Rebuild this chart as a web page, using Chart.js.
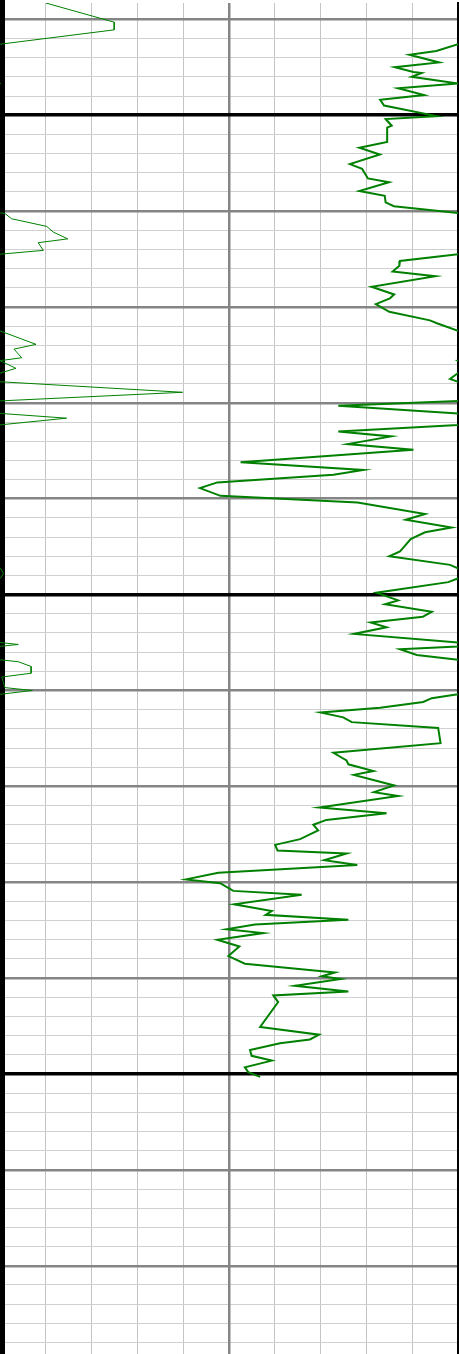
<!DOCTYPE html>
<html>
<head>
<meta charset="utf-8">
<script src="https://cdn.jsdelivr.net/npm/chart.js@4.4.1/dist/chart.umd.min.js"></script>
<style>
    html, body { margin: 0; padding: 0; background: #fff; overflow: hidden; }
    #log-track { position: relative; width: 459px; height: 1354px; }
</style>
</head>
<body>
<div id="log-track"><canvas id="gr-log-chart"></canvas></div>
<script>
// depth of each picked vertex (top to bottom) and the gamma ray reading there
const depths = [
    88.3, 90.3, 91.1, 92.6, 93.3, 93.7, 94.5, 95.0, 95.5, 95.6,
    96.0, 96.7, 97.2, 97.9, 98.4, 99.0, 100.1, 100.4, 101.1, 101.3,
    102.8, 103.4, 104.1, 105.1, 105.6, 106.6, 107.0, 107.9, 108.4, 109.1, 109.5,
    110.25, 110.8, 111.6, 112.2, 112.9, 113.3, 114.1, 114.5, 115.2, 115.7,
    116.3, 116.8, 117.9, 118.7, 119.1, 119.7, 120.5, 121.4, 121.7, 122.5,
    123.9, 124.4, 125.3, 125.6, 126.4, 126.9, 127.5, 127.8, 128.9, 129.8,
    130.3, 131.1, 131.6, 132.3, 133.0, 133.5, 134.3, 134.9, 136.2, 137.0,
    137.5, 138.3, 138.9, 139.7, 140.4, 141.6, 142.2, 143.0, 143.5, 144.2,
    145.1, 145.5, 146.0, 146.9, 147.3, 147.8, 148.3, 148.7, 149.8, 150.6,
    151.0, 151.8, 152.3, 152.9, 153.4, 154.1, 155.0, 155.2, 155.4, 155.7,
    156.3, 156.8, 157.0, 157.5, 158.2, 158.6, 159.7, 160.0, 160.4, 160.8,
    161.2, 161.8, 162.3, 162.8, 163.3, 163.9, 165.5, 166.5, 167.3, 167.7,
    168.4, 168.8, 169.9, 170.6, 171.0, 172.2, 172.8, 173.5, 174.0, 174.6,
    175.5, 176.1, 176.7, 177.0, 177.7, 178.2, 179.0, 179.7, 180.1, 180.9,
    181.3, 182.3, 183.0, 183.4, 183.9, 184.4, 184.9, 185.3, 186.0, 186.7,
    187.7, 188.5, 189.4, 189.8, 190.1, 190.8, 191.4, 191.8, 192.5, 195.1,
    195.9, 196.4, 196.8, 197.5, 198.1, 198.6, 199.3, 199.8, 200.3,
];

const gammaRay = [
    165.0, 187.4, 187.4, 150.0, 142.9, 134.1, 143.8, 129.3, 135.4, 138.1,
    134.8, 150.3, 130.4, 138.9, 124.5, 125.8, 143.0, 126.3, 128.3, 126.8,
    126.8, 117.7, 124.4, 114.6, 118.6, 120.5, 127.4, 117.7, 126.0, 126.3, 129.0,
    151.6, 153.8, 165.3, 167.5, 172.2, 162.5, 164.2, 150.0, 131.0, 130.8,
    128.6, 142.6, 121.7, 129.1, 127.7, 123.1, 127.5, 140.8, 143.1, 150.0,
    161.8, 154.6, 157.1, 150.0, 155.2, 150.0, 147.4, 150.0, 209.8, 150.0,
    110.8, 150.0, 171.8, 150.0, 110.8, 128.1, 113.9, 135.4, 78.8, 119.0,
    109.2, 71.2, 65.5, 72.2, 117.1, 139.2, 132.9, 147.9, 139.2, 134.5,
    132.1, 131.0, 127.5, 147.4, 150.3, 151.1, 150.1, 146.8, 123.3, 130.4,
    126.1, 141.4, 138.5, 121.4, 126.6, 115.9, 150.0, 156.0, 150.0, 131.0,
    136.5, 150.0, 156.0, 160.2, 160.2, 150.6, 151.6, 160.6, 150.0, 141.4,
    138.6, 124.5, 105.0, 112.4, 115.2, 143.5, 144.3, 109.2, 113.5, 114.1,
    122.3, 115.9, 129.1, 122.5, 130.4, 104.6, 126.6, 106.9, 102.6, 104.2,
    98.3, 90.1, 90.9, 113.5, 106.2, 117.0, 71.5, 60.9, 72.1, 76.4,
    98.8, 76.7, 89.0, 87.0, 114.1, 83.5, 74.2, 86.2, 71.2, 78.4,
    74.8, 80.2, 109.7, 105.4, 111.6, 96.6, 114.1, 89.5, 91.1, 85.2,
    104.5, 101.5, 91.7, 81.9, 82.4, 89.0, 80.2, 81.3, 85.2,
];

// track limits
const depthTop = 88.3;
const depthBase = 229.2;
const grMin = 0;
const grMax = 150;
const grBackupMax = 300;

// grid ticks
const grMinorTicks = [15, 30, 45, 60, 90, 105, 120, 135];
const grMajorTicks = [75];
const depthMinorTicks = [];
const depthMajorTicks = [];

for (let d = 90; d < depthBase; d += 2) {
    if (d % 10 === 0) {
        depthMajorTicks.push(d);
    } else {
        depthMinorTicks.push(d);
    }
}

function useTicks(values) {
    return (scale) => {
        scale.ticks = values.map((value) => ({ value }));
    };
}

function isFiftyLine(context) {
    return context.tick && context.tick.value % 50 === 0;
}

function initGammaRayTrack() {
    const canvas = document.getElementById("gr-log-chart");
    const points = depths.map((depth, i) => ({ x: gammaRay[i], y: depth }));

    new Chart(canvas, {
        type: "line",
        data: {
            datasets: [
                {
                    label: "GR",
                    data: points,
                    xAxisID: "x",
                    yAxisID: "y",
                    borderColor: "#008000",
                    borderWidth: 2,
                    pointRadius: 0,
                    tension: 0,
                    fill: false,
                },
                {
                    label: "GR backup",
                    data: points,
                    xAxisID: "xBackup",
                    yAxisID: "y",
                    borderColor: "#008000",
                    borderWidth: 1,
                    pointRadius: 0,
                    tension: 0,
                    fill: false,
                },
            ],
        },
        options: {
            responsive: true,
            maintainAspectRatio: false,
            animation: false,
            events: [],
            layout: {
                padding: { top: 3, right: 1, bottom: 0, left: 0 },
            },
            plugins: {
                legend: { display: false },
                tooltip: { enabled: false },
            },
            scales: {
                x: {
                    type: "linear",
                    position: "bottom",
                    min: grMin,
                    max: grMax,
                    afterBuildTicks: useTicks(grMinorTicks),
                    ticks: { display: false },
                    grid: { color: "#c4c4c4", lineWidth: 1, drawTicks: false, z: -3 },
                    border: { display: false },
                },
                xMajor: {
                    type: "linear",
                    position: "top",
                    min: grMin,
                    max: grMax,
                    afterBuildTicks: useTicks(grMajorTicks),
                    ticks: { display: false },
                    grid: { color: "#858585", lineWidth: 2.5, drawTicks: false, z: -2 },
                    border: { display: false },
                },
                xBackup: {
                    type: "linear",
                    display: false,
                    min: grMax,
                    max: grBackupMax,
                },
                y: {
                    type: "linear",
                    position: "left",
                    reverse: true,
                    min: depthTop,
                    max: depthBase,
                    afterBuildTicks: useTicks(depthMinorTicks),
                    ticks: { display: false },
                    grid: { color: "#d0d0d0", lineWidth: 1, drawTicks: false, z: -3 },
                    border: { display: true, color: "#000000", width: 10 },
                },
                yMajor: {
                    type: "linear",
                    position: "right",
                    reverse: true,
                    min: depthTop,
                    max: depthBase,
                    afterBuildTicks: useTicks(depthMajorTicks),
                    ticks: { display: false },
                    grid: {
                        color: (context) => (isFiftyLine(context) ? "#000000" : "#858585"),
                        lineWidth: (context) => (isFiftyLine(context) ? 3.5 : 2.5),
                        drawTicks: false,
                        z: -1,
                    },
                    border: { display: true, color: "#000000", width: 2 },
                },
            },
        },
    });
}

initGammaRayTrack();
</script>
</body>
</html>
